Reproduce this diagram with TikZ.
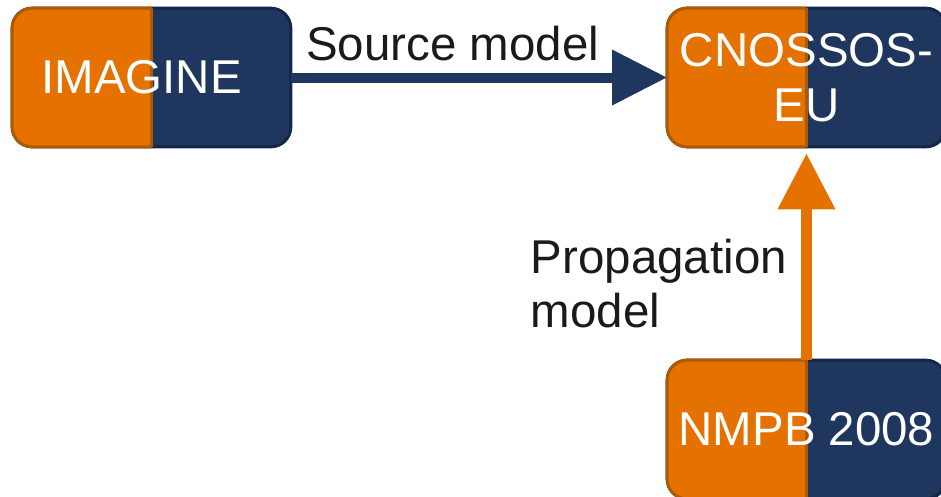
\documentclass[tikz,border=0pt]{standalone}
\usepackage{fontspec}
\setmainfont{Liberation Sans}
\usetikzlibrary{positioning, backgrounds, arrows.meta, calc}

\definecolor{mOrange}{HTML}{E57200}
\definecolor{mOrangeDark}{HTML}{AF5A00}
\definecolor{mNavy}{HTML}{1F365E}
\definecolor{mNavyDark}{HTML}{14264A}
\definecolor{mText}{HTML}{1A1A1A}

\begin{document}
\begin{tikzpicture}
\tikzset{model/.style={rectangle, minimum width=5.56cm, minimum height=2.76cm, inner sep=0pt, text=white, align=center, font=\fontsize{27pt}{31pt}\selectfont},
  lbl/.style={text=mText, align=left, font=\fontsize{27pt}{31pt}\selectfont},
  navypart/.style={fill=mNavy, draw=mNavyDark, line width=1.7pt, rounded corners=0.4cm},
  orangepart/.style={fill=mOrange, draw=mOrangeDark, line width=1.7pt, rounded corners=0.4cm}}
\useasboundingbox (0,0) rectangle (18.82,-9.92);
\node[model] (M1) at (3.03,-1.55) {IMAGINE\hspace*{0.4cm}};
\node[model] (M2) at (16.13,-1.55) {CNOSSOS-\\EU};
\node[model] (M3) at (16.13,-8.59) {NMPB 2008};
% two-tone boxes behind the text
\begin{scope}[on background layer]
\foreach \m in {M1,M2,M3} {
  \draw[navypart] (\m.north west) rectangle (\m.south east);
  \draw[orangepart] (\m.north) -- (\m.north west) -- (\m.south west) -- (\m.south);
  \draw[mOrangeDark, line width=1.7pt] (\m.north) -- (\m.south);
}
\end{scope}
\draw[mNavy, line width=0.2cm, -{Triangle[length=1.1cm, width=1.06cm]}] (M1) -- node[lbl, above=3pt, pos=0.43] {Source model} (M2);
\draw[mOrange, line width=0.21cm, shorten >=0.13cm, -{Triangle[length=1.12cm, width=1.1cm]}] (M3) -- node[lbl, left=2pt, pos=0.36, xshift=-0.1cm] {Propagation\\model} (M2);
\end{tikzpicture}
\end{document}
